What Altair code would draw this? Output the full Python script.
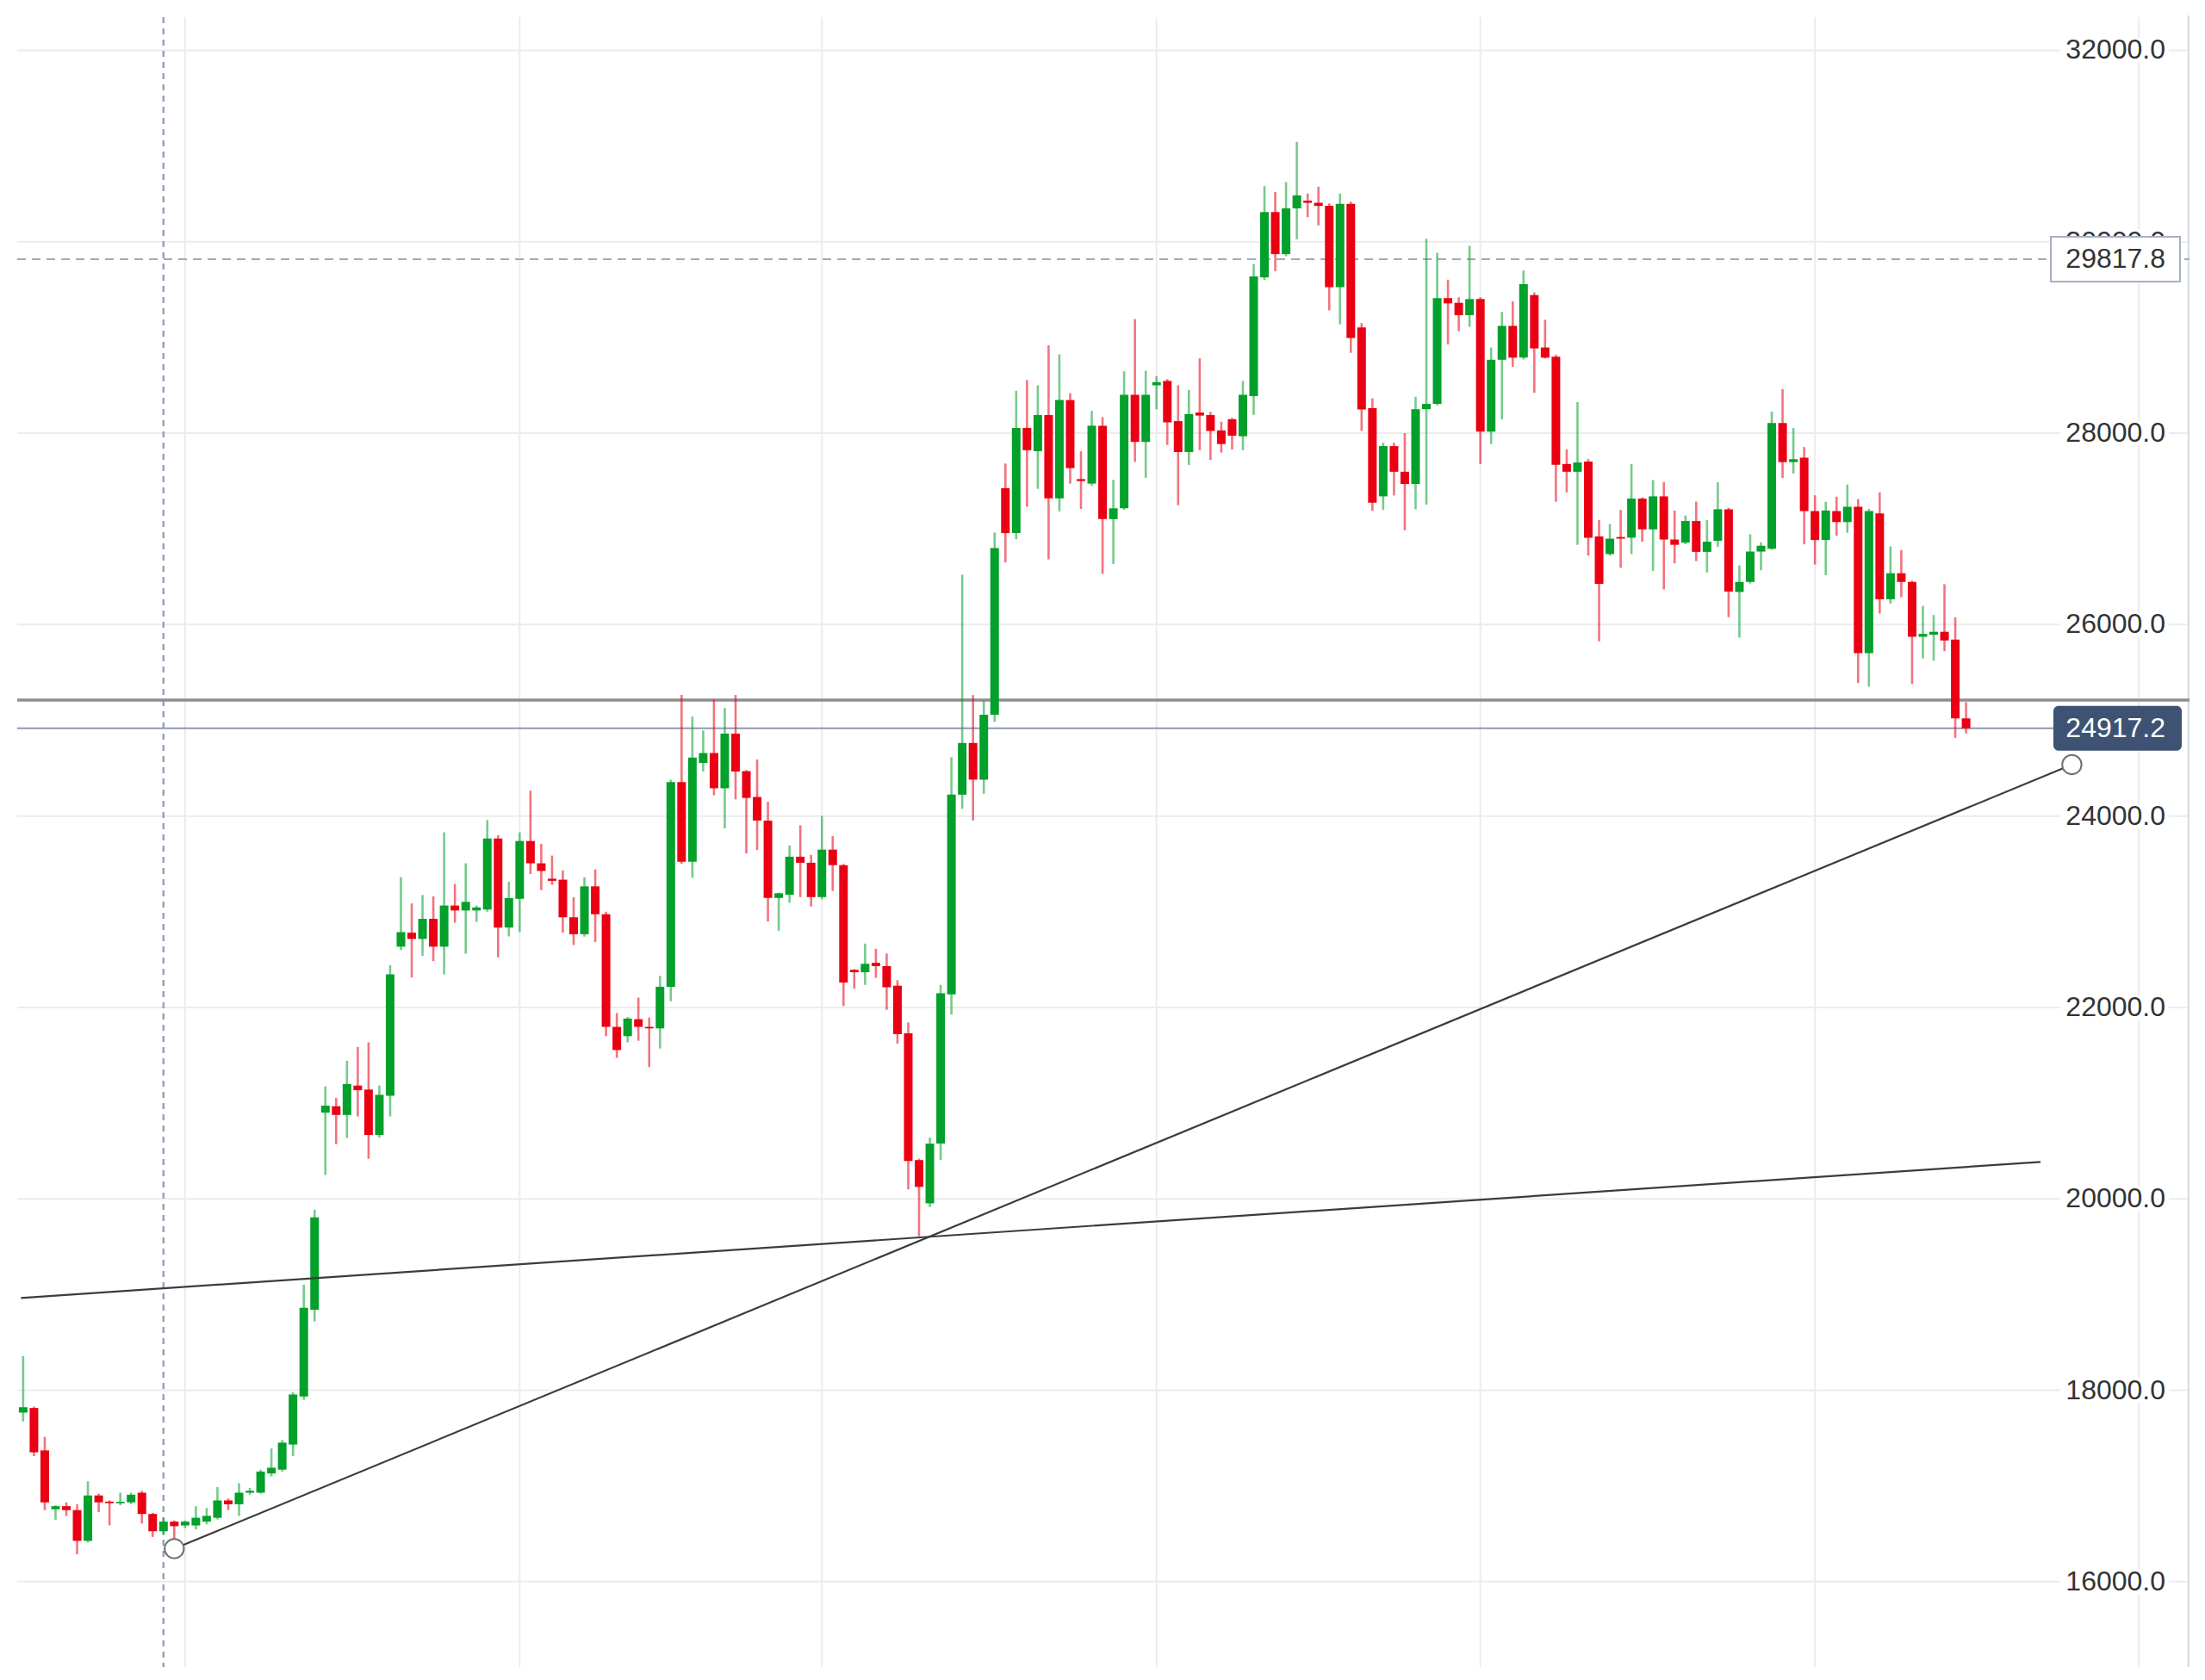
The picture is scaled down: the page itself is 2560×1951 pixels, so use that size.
import altair as alt
import pandas as pd
import numpy as np

# ---------------- data ----------------
dates = pd.date_range("2022-12-17", "2023-06-15", freq="D")

opens = [
    # Dec 17-31
    17767, 17815, 17372, 16757, 16789, 16748, 16427, 16901, 16837, 16820, 16829, 16930, 16708, 16527, 16628,
    # Jan
    16588, 16588, 16628, 16668, 16849, 16809, 16930, 16930, 17131, 17171, 17433, 17936, 18841, 20901, 20968,
    20877, 21184, 21142, 20668, 21077, 22635, 22781, 22716, 22926, 22635, 23065, 23013, 23013, 23023, 23765, 22835,
    # Feb
    23135, 23739, 23506, 23345, 23335, 22942, 22765, 23265, 22974, 21797, 21700, 21877, 21797, 21781, 22216,
    24355, 23523, 24555, 24658, 24290, 24861, 24469, 24199, 23953, 23144, 23178, 23575, 23512,
    # Mar
    23153, 23649, 23487, 22393, 22368, 22466, 22432, 22226, 21730, 20405, 19953, 20577, 22137, 24223, 24763,
    24380, 25058, 27425, 26956, 28055, 27812, 28190, 27318, 28346, 27520, 27473, 28078, 27102, 27215, 28401, 27909,
    # Apr
    28500, 28546, 28126, 27803, 28216, 28190, 28029, 28146, 27968, 28388, 29628, 30310, 29871, 30349, 30430,
    30407, 30375, 29525, 30397, 29105, 28261, 27340, 27865, 27597, 27469, 28251, 28306, 29411, 29362, 29233,
    # May
    29401, 28016, 28767, 29121, 28789, 29443, 28895, 28799, 27678, 27597, 27704, 26921, 26737, 26915, 26908,
    27317, 26995, 27340, 26889, 26857, 27082, 26760, 26876, 27205, 26341, 26446, 26763, 26793, 28106, 27698, 27744,
    # Jun 1-15
    27186, 26884, 27186, 27071, 27231, 25701, 27161, 26265, 26537, 26446, 25873, 25894, 25925, 25843, 25020,
]
highs = [
    18358, 17830, 17513, 16800, 16829, 16809, 17050, 16920, 16850, 16930, 16930, 16950, 16720, 16668, 16640,
    16640, 16789, 16769, 16990, 16870, 17030, 16980, 17170, 17392, 17480, 17980, 19103, 19887, 21175, 21055,
    21442, 21587, 21635, 21184, 22442, 23361, 23087, 23174, 23161, 23829, 23290, 23506, 23065, 23958, 23800, 23313,
    23829, 24265, 23710, 23587, 23432, 23152, 23361, 23442, 23000, 21942, 21900, 22103, 21894, 22329, 24380,
    25265, 25039, 24894, 25216, 25129, 25265, 24480, 24591, 24150, 23200, 23693, 23904, 23595,
    24002, 23791, 23500, 22400, 22667, 22613, 22564, 22285, 21843, 20420, 20641, 22236, 24616, 26520, 25264,
    25205, 26962, 27683, 28443, 28556, 28501, 28918, 28824, 28417, 27813, 28233, 28168, 27512, 28646, 29192, 28653,
    28594, 28565, 28501, 28452, 28782, 28223, 28120, 28160, 28546, 29767, 30582, 30520, 30624, 31044, 30504,
    30575, 30400, 30504, 30420, 29150, 28364, 27900, 27900, 28000, 28380, 30032, 29884, 29604, 29420, 29958,
    29420, 28895, 29266, 29378, 29700, 29470, 29185, 28820, 27833, 28325, 27730, 27092, 27050, 27198, 27678,
    27330, 27510, 27488, 27191, 27140, 27285, 27092, 27488, 27220, 26618, 26944, 26860, 28226, 28459, 28054, 27855,
    27351, 27282, 27336, 27463, 27312, 27210, 27382, 26817, 26778, 26460, 26196, 26100, 26422, 26075, 25189,
]
lows = [
    17674, 17312, 16748, 16648, 16688, 16286, 16410, 16728, 16588, 16800, 16810, 16608, 16467, 16487, 16350,
    16560, 16547, 16600, 16650, 16748, 16688, 16910, 16920, 17100, 17150, 17312, 17900, 18720, 20250, 20571,
    20635, 20861, 20419, 20640, 20861, 22600, 22313, 22539, 22484, 22345, 22884, 22561, 22894, 23000, 22523, 22742,
    22787, 23394, 23226, 23281, 22781, 22652, 22740, 22684, 21700, 21474, 21635, 21652, 21377, 21571, 22065,
    23500, 23355, 24465, 24216, 23871, 24174, 23610, 23644, 22898, 22800, 23094, 23153, 23055,
    23130, 23217, 22015, 22196, 22236, 22309, 21975, 21622, 20100, 19610, 19914, 20405, 21926, 24076, 23953,
    24233, 24984, 26650, 26892, 27231, 27418, 26682, 27183, 27473, 27208, 27450, 26530, 26633, 27200, 27700, 27532,
    28249, 27877, 27247, 27667, 27822, 27722, 27797, 27830, 27822, 28191, 29600, 29693, 29850, 30026, 30258,
    30171, 29283, 29137, 28840, 28023, 27188, 27198, 27349, 26986, 27205, 27253, 28290, 28928, 29066, 29111,
    27678, 27887, 28145, 28692, 28770, 28422, 28780, 27285, 27382, 26834, 26721, 25826, 26720, 26593, 26737,
    26866, 26560, 26367, 26641, 26840, 26663, 26544, 26812, 26077, 25864, 26430, 26567, 26780, 27532, 27578, 26839,
    26627, 26516, 26929, 26959, 25391, 25351, 26115, 26220, 26287, 25382, 25647, 25623, 25722, 24817, 24863,
]
closes = [
    17823, 17352, 16829, 16789, 16748, 16427, 16901, 16829, 16821, 16835, 16909, 16708, 16527, 16628, 16580,
    16628, 16668, 16688, 16849, 16809, 16930, 16950, 17151, 17191, 17453, 17956, 18861, 19807, 20974, 20877,
    21200, 21135, 20668, 21087, 22345, 22787, 22716, 22926, 22635, 23065, 23013, 23103, 23045, 23765, 22835, 23142,
    23739, 23506, 23426, 23323, 22942, 22765, 23265, 22974, 21797, 21555, 21884, 21797, 21781, 22216, 24355,
    23523, 24610, 24658, 24290, 24861, 24465, 24189, 23953, 23144, 23193, 23575, 23512, 23153,
    23649, 23487, 22260, 22368, 22456, 22432, 22211, 21720, 20395, 20125, 20577, 22147, 24223, 24763, 24380,
    25058, 26800, 26956, 28055, 27822, 28190, 27318, 28346, 27635, 27500, 28078, 27102, 27215, 28401, 27909, 28401,
    28533, 28113, 27803, 28200, 28184, 28023, 27887, 27974, 28401, 29638, 30310, 29871, 30349, 30485, 30407,
    30375, 29525, 30397, 28995, 28249, 27275, 27865, 27597, 27469, 28251, 28306, 29411, 29356, 29233, 29401,
    28016, 28767, 29121, 28789, 29556, 28886, 28789, 27671, 27597, 27694, 26908, 26425, 26898, 26898, 27317,
    26995, 27340, 26889, 26834, 27082, 26760, 26866, 27205, 26345, 26446, 26763, 26824, 28106, 27698, 27728, 27186,
    26884, 27192, 27071, 27231, 25701, 27186, 26265, 26537, 26446, 25873, 25903, 25925, 25834, 25020, 24917,
]

tick_values = [16000, 18000, 20000, 22000, 24000, 26000, 28000, 30000, 32000]
month_starts = ["2023-01-01", "2023-02-01", "2023-03-01", "2023-04-01",
                "2023-05-01", "2023-06-01", "2023-07-01"]

# drawn annotations (x in days from 2023-01-01, y in price)
trend_up_x = [-1, 174.8]
trend_up_y = [16345, 24537]
trend_flat_x = [-15.2, 171.9]
trend_flat_y = [18965, 20386]
crosshair_day = -2
marked_price = 29817.8
level_price = 25212
last_price = 24917.2

# ---------------- styles ----------------
GREEN = "#03a02b"
RED = "#ea0012"
GRID = "#ececec"
FONT = "Liberation Sans"
W, H = 2522, 1916
LABEL_X = 2494

ref = pd.Timestamp("2023-01-01")
day = (dates - ref).days.astype(float)

candles = pd.DataFrame({"d": day, "o": opens, "h": highs, "l": lows, "c": closes})
candles["dir"] = np.where(candles["c"] >= candles["o"], "up", "down")

xscale = alt.Scale(domain=[-15.15, 185.3], nice=False, zero=False)
yscale = alt.Scale(domain=[15108, 32346], nice=False, zero=False)
colscale = alt.Scale(domain=["up", "down"], range=[GREEN, RED])

months_df = pd.DataFrame({"d": [(pd.Timestamp(m) - ref).days for m in month_starts]})
ticks_df = pd.DataFrame({"v": tick_values, "label": [f"{v:.1f}" for v in tick_values]})

vgrid = alt.Chart(months_df).mark_rule(color=GRID, strokeWidth=2).encode(
    x=alt.X("d:Q", scale=xscale, axis=None), y=alt.value(0), y2=alt.value(H))
hgrid = alt.Chart(ticks_df).mark_rule(color=GRID, strokeWidth=2).encode(
    y=alt.Y("v:Q", scale=yscale, axis=None), x=alt.value(0), x2=alt.value(W))
border = alt.Chart(ticks_df.head(1)).mark_rule(color="#d6dce5", strokeWidth=2.5).encode(
    x=alt.value(W - 1), y=alt.value(-2), y2=alt.value(H))

cross = alt.Chart(pd.DataFrame({"d": [crosshair_day]})).mark_rule(
    color="#9aa0bb", strokeWidth=2.5, strokeDash=[7, 6]).encode(
    x=alt.X("d:Q", scale=xscale, axis=None), y=alt.value(0), y2=alt.value(H))

marked_line = alt.Chart(pd.DataFrame({"v": [marked_price]})).mark_rule(
    color="#a3a8c0", strokeWidth=2, strokeDash=[10, 7]).encode(
    y=alt.Y("v:Q", scale=yscale, axis=None), x=alt.value(0), x2=alt.value(W))
level_line = alt.Chart(pd.DataFrame({"v": [level_price]})).mark_rule(
    color="#8e8e8e", strokeWidth=3.5).encode(
    y=alt.Y("v:Q", scale=yscale, axis=None), x=alt.value(0), x2=alt.value(W))
last_line = alt.Chart(pd.DataFrame({"v": [last_price]})).mark_rule(
    color="#8f98b5", strokeWidth=2).encode(
    y=alt.Y("v:Q", scale=yscale, axis=None), x=alt.value(0), x2=alt.value(2364))

wicks = alt.Chart(candles).mark_rule(strokeWidth=2.6, opacity=0.55, clip=True).encode(
    x=alt.X("d:Q", scale=xscale, axis=None),
    y=alt.Y("l:Q", scale=yscale, axis=None), y2="h:Q",
    color=alt.Color("dir:N", scale=colscale, legend=None))
bodies = alt.Chart(candles).mark_bar(size=10, clip=True).encode(
    x=alt.X("d:Q", scale=xscale, axis=None),
    y=alt.Y("o:Q", scale=yscale, axis=None), y2="c:Q",
    color=alt.Color("dir:N", scale=colscale, legend=None))

trend_df = pd.DataFrame({
    "x": trend_up_x + trend_flat_x,
    "y": trend_up_y + trend_flat_y,
    "k": ["up", "up", "flat", "flat"],
})
trends = alt.Chart(trend_df).mark_line(color="#3c3c3c", strokeWidth=2.2, clip=True).encode(
    x=alt.X("x:Q", scale=xscale, axis=None),
    y=alt.Y("y:Q", scale=yscale, axis=None), detail="k:N")
anchors = alt.Chart(pd.DataFrame({"x": trend_up_x, "y": trend_up_y})).mark_circle(
    size=500, color="white", opacity=1, stroke="#6f6f6f", strokeWidth=2).encode(
    x=alt.X("x:Q", scale=xscale, axis=None), y=alt.Y("y:Q", scale=yscale, axis=None))

label_bg = alt.Chart(ticks_df).mark_rect(color="white", yOffset=-14, y2Offset=14).encode(
    y=alt.Y("v:Q", scale=yscale, axis=None), y2="v:Q",
    x=alt.value(LABEL_X - 122), x2=alt.value(LABEL_X + 4))
labels = alt.Chart(ticks_df).mark_text(
    align="right", baseline="middle", fontSize=32, font=FONT, color="#333333").encode(
    y=alt.Y("v:Q", scale=yscale, axis=None), x=alt.value(LABEL_X), text="label:N")

mk_df = pd.DataFrame({"v": [marked_price], "label": [f"{marked_price:.1f}"]})
mk_box = alt.Chart(mk_df).mark_rect(
    fill="white", stroke="#a9aec6", strokeWidth=2, yOffset=-26, y2Offset=26).encode(
    y=alt.Y("v:Q", scale=yscale, axis=None), y2="v:Q",
    x=alt.value(2361), x2=alt.value(2511))
mk_text = alt.Chart(mk_df).mark_text(
    align="right", baseline="middle", fontSize=32, font=FONT, color="#333333").encode(
    y=alt.Y("v:Q", scale=yscale, axis=None), x=alt.value(LABEL_X), text="label:N")

lp_df = pd.DataFrame({"v": [last_price], "label": [f"{last_price:.1f}"]})
lp_box = alt.Chart(lp_df).mark_rect(
    fill="#3e5373", cornerRadius=6, yOffset=-26, y2Offset=26).encode(
    y=alt.Y("v:Q", scale=yscale, axis=None), y2="v:Q",
    x=alt.value(2364), x2=alt.value(2513))
lp_text = alt.Chart(lp_df).mark_text(
    align="right", baseline="middle", fontSize=32, font=FONT, color="white").encode(
    y=alt.Y("v:Q", scale=yscale, axis=None), x=alt.value(LABEL_X), text="label:N")

chart = alt.layer(
    vgrid, hgrid, border, cross, marked_line, level_line, last_line,
    wicks, bodies, trends, anchors,
    label_bg, labels, mk_box, mk_text, lp_box, lp_text,
).properties(
    width=W, height=H,
    autosize=alt.AutoSizeParams(type="none"),
    padding={"left": 12, "top": 12, "right": 0, "bottom": 0},
    background="white",
).configure_view(stroke=None)

chart.save("out.html", embed_options={"renderer": "svg", "actions": False})
